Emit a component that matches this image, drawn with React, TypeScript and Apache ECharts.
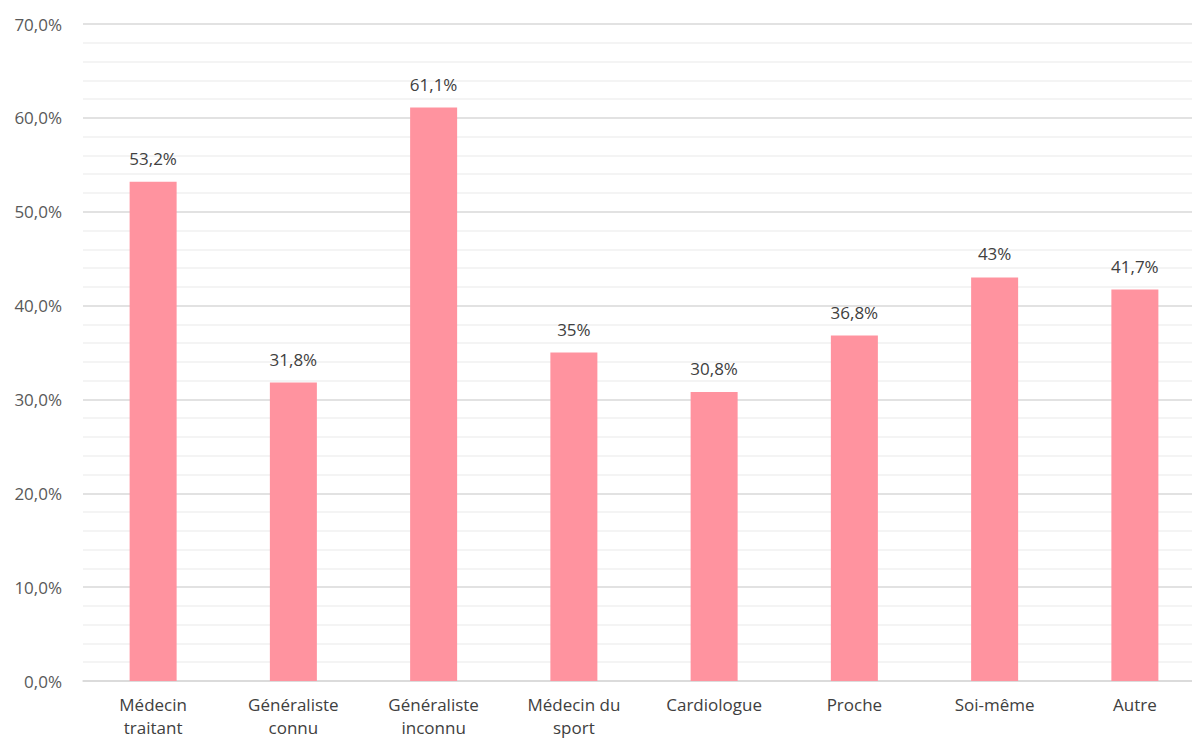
import React, { useEffect, useRef } from "react";
import * as echarts from "echarts";

const categories = [
  "Médecin\ntraitant",
  "Généraliste\nconnu",
  "Généraliste\ninconnu",
  "Médecin du\nsport",
  "Cardiologue",
  "Proche",
  "Soi-même",
  "Autre",
];
const values = [53.2, 31.8, 61.1, 35, 30.8, 36.8, 43, 41.7];
const valueLabels = ["53,2%", "31,8%", "61,1%", "35%", "30,8%", "36,8%", "43%", "41,7%"];
const yMin = 0;
const yMax = 70;
const yInterval = 10;

const FONT = "'Open Sans', sans-serif";

export default function App() {
  const ref = useRef<HTMLDivElement>(null);
  useEffect(() => {
    if (!ref.current) return;
    const chart = echarts.init(ref.current, undefined, { renderer: "svg" });
    chart.setOption({
      animation: false,
      backgroundColor: "#ffffff",
      grid: {
        left: 83,
        top: 24,
        width: 1122,
        height: 657,
        containLabel: false,
        outerBoundsMode: "none",
      },
      xAxis: {
        type: "category",
        data: categories,
        axisLine: { show: true, lineStyle: { color: "#d9d9d9", width: 1.5 } },
        axisTick: { show: false },
        axisLabel: {
          color: "#404040",
          fontFamily: FONT,
          fontSize: 17,
          margin: 12,
          lineHeight: 23,
          verticalAlign: "top",
          interval: 0,
        },
      },
      yAxis: {
        type: "value",
        min: yMin,
        max: yMax,
        interval: yInterval,
        axisLine: { show: false },
        axisTick: { show: false },
        axisLabel: {
          color: "#595959",
          fontFamily: FONT,
          fontSize: 17,
          margin: 21,
          formatter: (v: number) => v.toFixed(1).replace(".", ",") + "%",
        },
        splitLine: { show: true, lineStyle: { color: "#d9d9d9", width: 1.5 } },
        minorTick: { show: false, splitNumber: 5 },
        minorSplitLine: { show: true, lineStyle: { color: "#f0f0f0", width: 1.5 } },
      },
      series: [
        {
          type: "bar",
          data: values,
          barWidth: 47,
          itemStyle: { color: "#ff939f" },
          label: {
            show: true,
            position: "top",
            distance: 15,
            color: "#404040",
            fontFamily: FONT,
            fontSize: 17,
            formatter: (p: any) => valueLabels[p.dataIndex],
          },
        },
      ],
    });
    return () => chart.dispose();
  }, []);
  return (
    <div
      ref={ref}
      style={{ position: "fixed", left: 0, top: 0, width: 1192, height: 741, background: "#fff" }}
    />
  );
}
